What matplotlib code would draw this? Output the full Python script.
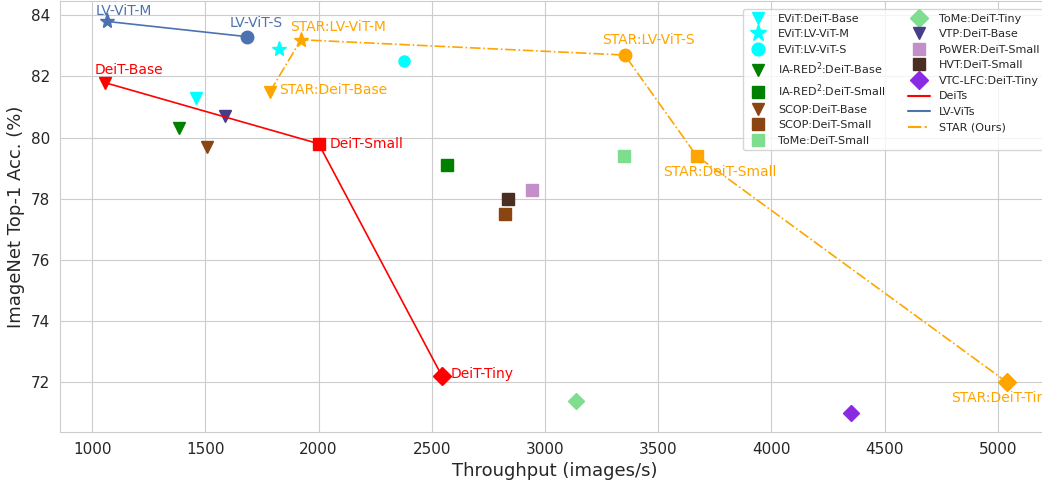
import matplotlib
matplotlib.use("Agg")
import matplotlib.pyplot as plt
from matplotlib.lines import Line2D
import seaborn as sns

# main model families (line + markers)
deit_names = ["DeiT-Base", "DeiT-Small", "DeiT-Tiny"]
deit_tp = [1055, 2000, 2545]
deit_acc = [81.8, 79.8, 72.2]
deit_mk = ["v", "s", "D"]

lvvit_names = ["LV-ViT-M", "LV-ViT-S"]
lvvit_tp = [1065, 1685]
lvvit_acc = [83.8, 83.3]
lvvit_mk = ["*", "o"]

star_names = ["STAR:DeiT-Base", "STAR:LV-ViT-M", "STAR:LV-ViT-S", "STAR:DeiT-Small", "STAR:DeiT-Tiny"]
star_tp = [1785, 1922, 3352, 3670, 5040]
star_acc = [81.5, 83.2, 82.7, 79.4, 72.0]
star_mk = ["v", "*", "o", "s", "D"]

# other methods
other_names = ["EViT:DeiT-Base", "EViT:LV-ViT-M", "EViT:LV-ViT-S", "IA-RED$^2$:DeiT-Base",
               "IA-RED$^2$:DeiT-Small", "SCOP:DeiT-Base", "SCOP:DeiT-Small", "ToMe:DeiT-Small",
               "ToMe:DeiT-Tiny", "VTP:DeiT-Base", "PoWER:DeiT-Small", "HVT:DeiT-Small",
               "VTC-LFC:DeiT-Tiny"]
other_tp = [1460, 1825, 2378, 1385, 2568, 1508, 2825, 3348, 3135, 1588, 2944, 2838, 4353]
other_acc = [81.3, 82.9, 82.5, 80.3, 79.1, 79.7, 77.5, 79.4, 71.4, 80.7, 78.3, 78.0, 71.0]
other_mk = ["v", "*", "o", "v", "s", "v", "s", "s", "D", "v", "s", "s", "D"]
other_col = ["cyan", "cyan", "cyan", "green", "green", "#8B4513", "#8B4513", "#7FDD8F",
             "#7FDD8F", "#483D8B", "#C38FC8", "#4A2E22", "#8A2BE2"]

sns.set_style("whitegrid")
fig = plt.figure(figsize=(10.42, 4.82), dpi=100)
ax = fig.add_axes([0.0576, 0.1037, 0.95, 0.895])

handles = []
for n, x, y, m, c in zip(other_names, other_tp, other_acc, other_mk, other_col):
    ms = 11 if m == "*" else 8
    ax.plot([x], [y], linestyle="none", marker=m, color=c, markersize=ms)
    handles.append(Line2D([], [], linestyle="none", marker=m, color=c, markersize=ms * 1.15, label=n))

red = "red"
blue = "#4C72B0"
orange = "orange"

ax.plot(deit_tp, deit_acc, color=red, lw=1.2)
for x, y, m in zip(deit_tp, deit_acc, deit_mk):
    ax.plot([x], [y], marker=m, color=red, markersize=9, linestyle="none")
ax.plot(lvvit_tp, lvvit_acc, color=blue, lw=1.2)
for x, y, m in zip(lvvit_tp, lvvit_acc, lvvit_mk):
    ax.plot([x], [y], marker=m, color=blue, markersize=11 if m == "*" else 9, linestyle="none")
ax.plot(star_tp, star_acc, color=orange, lw=1.2, linestyle="-.")
for x, y, m in zip(star_tp, star_acc, star_mk):
    ax.plot([x], [y], marker=m, color=orange, markersize=11 if m == "*" else 9, linestyle="none")

handles.append(Line2D([], [], color=red, lw=1.5, label="DeiTs"))
handles.append(Line2D([], [], color=blue, lw=1.5, label="LV-ViTs"))
handles.append(Line2D([], [], color=orange, lw=1.5, linestyle="-.", label="STAR (Ours)"))

# label offsets in pixels
deit_off = [(-10, 13), (11, 0), (9, 2)]
lvvit_off = [(-11, 10), (-18, 14)]
star_off = [(9, 2), (-11, 13), (-23, 15), (-34, -16), (-56, -16)]
for names, xs, ys, offs, c in [(deit_names, deit_tp, deit_acc, deit_off, red),
                                (lvvit_names, lvvit_tp, lvvit_acc, lvvit_off, blue),
                                (star_names, star_tp, star_acc, star_off, orange)]:
    for n, x, y, o in zip(names, xs, ys, offs):
        ax.annotate(n, (x, y), xytext=o, textcoords="offset pixels", color=c,
                    fontsize=10, ha="left", va="center")

ax.set_xlim(858, 5230)
ax.set_ylim(70.37, 84.48)
ax.set_xticks([1000, 1500, 2000, 2500, 3000, 3500, 4000, 4500, 5000])
ax.set_yticks([72, 74, 76, 78, 80, 82, 84])
ax.tick_params(labelsize=11)
ax.set_xlabel("Throughput (images/s)", fontsize=13)
ax.set_ylabel("ImageNet Top-1 Acc. (%)", fontsize=13)

ax.legend(handles=handles, ncol=2, fontsize=8, loc="upper left",
          bbox_to_anchor=(0.684, 0.993), frameon=True, handlelength=2,
          columnspacing=2.0, labelspacing=0.5)

fig.savefig("out.png", dpi=100)
